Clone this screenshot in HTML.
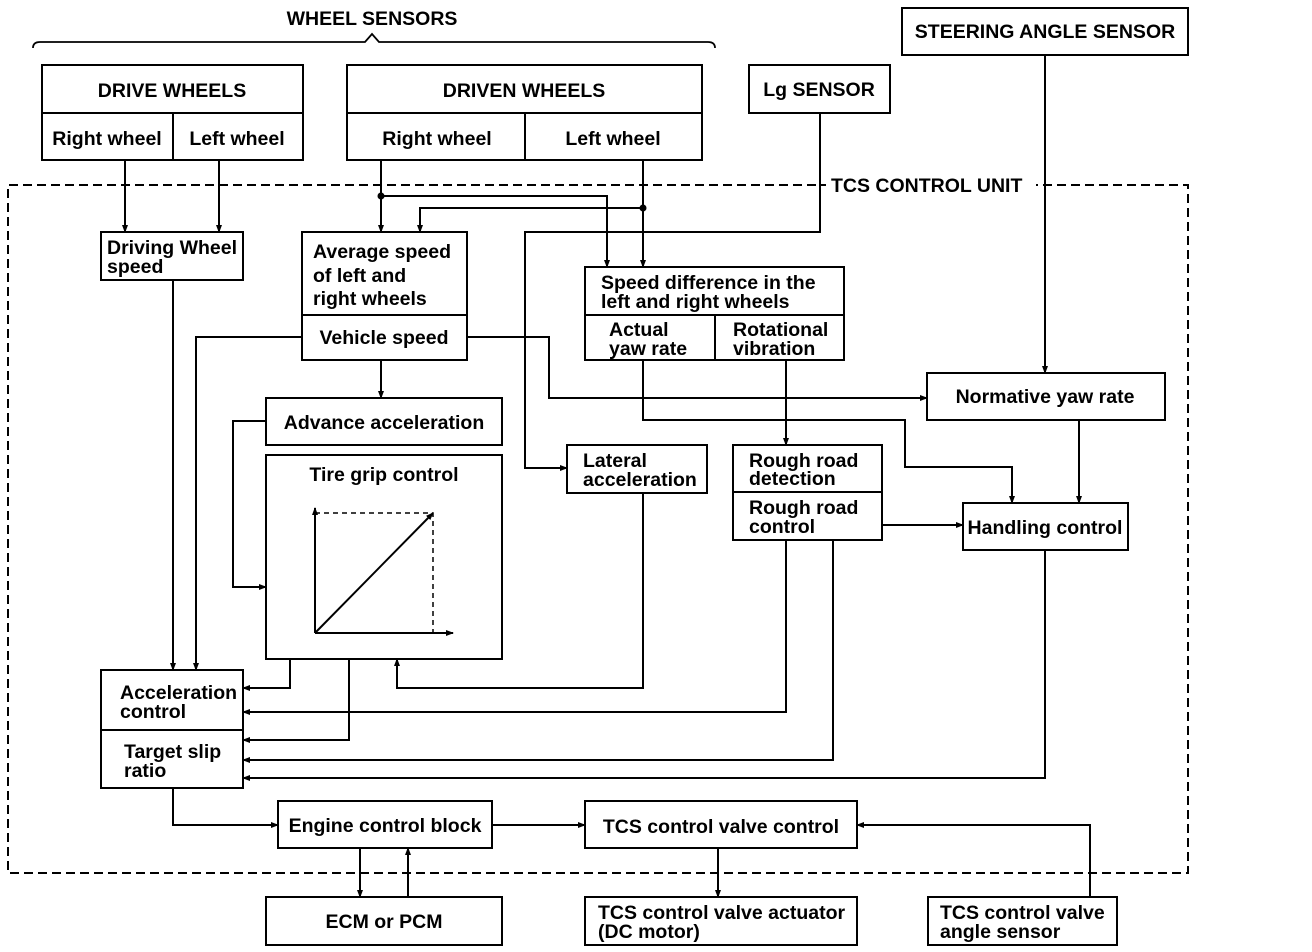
<!DOCTYPE html>
<html><head><style>
html,body{margin:0;padding:0;background:#fff;}
svg{display:block;}
text{font-family:"Liberation Sans",sans-serif;font-weight:bold;font-size:19.5px;fill:#000;}
</style></head><body>
<svg width="1312" height="952" viewBox="0 0 1312 952" xmlns="http://www.w3.org/2000/svg">
<defs>
<marker id="a" markerWidth="8" markerHeight="8" refX="7" refY="4" orient="auto" markerUnits="userSpaceOnUse">
<path d="M0,1 L8,4 L0,7 Z" fill="#000"/></marker>
</defs>
<g fill="none" stroke="#000" stroke-width="2">
<path d="M33,48 Q33,42 40,42 L365,42 L372,34 L379,42 L708,42 Q715,42 715,48" stroke-width="1.8"/>
<path d="M830,185 L8,185 L8,873 L1188,873 L1188,185 L1035,185" stroke-dasharray="9,5"/>
<rect x="42" y="65" width="261" height="95"/><line x1="42" y1="113" x2="303" y2="113"/><line x1="173" y1="113" x2="173" y2="160"/>
<rect x="347" y="65" width="355" height="95"/><line x1="347" y1="113" x2="702" y2="113"/><line x1="525" y1="113" x2="525" y2="160"/>
<rect x="749" y="65" width="141" height="48"/>
<rect x="902" y="8" width="286" height="47"/>
<rect x="101" y="232" width="142" height="48"/>
<rect x="302" y="232" width="165" height="128"/><line x1="302" y1="315" x2="467" y2="315"/>
<rect x="585" y="267" width="259" height="93"/><line x1="585" y1="315" x2="844" y2="315"/><line x1="715" y1="315" x2="715" y2="360"/>
<rect x="927" y="373" width="238" height="47"/>
<rect x="266" y="398" width="236" height="47"/>
<rect x="266" y="455" width="236" height="204"/>
<rect x="567" y="445" width="140" height="48"/>
<rect x="733" y="445" width="149" height="95"/><line x1="733" y1="492" x2="882" y2="492"/>
<rect x="963" y="503" width="165" height="47"/>
<rect x="101" y="670" width="142" height="118"/><line x1="101" y1="730" x2="243" y2="730"/>
<rect x="278" y="801" width="214" height="47"/>
<rect x="585" y="801" width="272" height="47"/>
<rect x="266" y="897" width="236" height="48"/>
<rect x="585" y="897" width="272" height="48"/>
<rect x="928" y="897" width="189" height="48"/>
<line x1="315" y1="633" x2="315" y2="508" marker-end="url(#a)"/>
<line x1="315" y1="633" x2="453" y2="633" marker-end="url(#a)"/>
<line x1="315" y1="633" x2="433" y2="513" marker-end="url(#a)"/>
<path d="M315,513 L433,513 L433,633" stroke-dasharray="5,4" stroke-width="1.5"/>
<g marker-end="url(#a)">
<line x1="125" y1="160" x2="125" y2="232"/>
<line x1="219" y1="160" x2="219" y2="232"/>
<line x1="381" y1="160" x2="381" y2="232"/>
<path d="M381,196 L607,196 L607,267"/>
<line x1="643" y1="160" x2="643" y2="267"/>
<path d="M643,208 L420,208 L420,232"/>
<path d="M820,113 L820,232 L525,232 L525,468 L567,468"/>
<line x1="1045" y1="55" x2="1045" y2="373"/>
<line x1="173" y1="280" x2="173" y2="670"/>
<path d="M302,337 L196,337 L196,670"/>
<path d="M467,337 L549,337 L549,398 L927,398"/>
<line x1="381" y1="360" x2="381" y2="398"/>
<path d="M266,421 L233,421 L233,587 L266,587"/>
<path d="M643,360 L643,420 L905,420 L905,467 L1012,467 L1012,503"/>
<line x1="786" y1="360" x2="786" y2="445"/>
<line x1="1079" y1="420" x2="1079" y2="503"/>
<line x1="882" y1="525" x2="963" y2="525"/>
<path d="M290,659 L290,688 L243,688"/>
<path d="M349,659 L349,740 L243,740"/>
<path d="M643,493 L643,688 L397,688 L397,659"/>
<path d="M786,540 L786,712 L243,712"/>
<path d="M833,540 L833,760 L243,760"/>
<path d="M1045,550 L1045,778 L243,778"/>
<path d="M173,788 L173,825 L278,825"/>
<line x1="492" y1="825" x2="585" y2="825"/>
<line x1="360" y1="848" x2="360" y2="897"/>
<line x1="408" y1="897" x2="408" y2="848"/>
<line x1="718" y1="848" x2="718" y2="897"/>
<path d="M1090,897 L1090,825 L857,825"/>
</g>
</g>
<circle cx="381" cy="196" r="3.5"/><circle cx="643" cy="208" r="3.5"/>
<rect x="826" y="175" width="210" height="20" fill="#fff"/>
<text x="831" y="192">TCS CONTROL UNIT</text>
<text x="372" y="25" text-anchor="middle">WHEEL SENSORS</text>
<text x="172" y="97" text-anchor="middle">DRIVE WHEELS</text>
<text x="107" y="145" text-anchor="middle">Right wheel</text>
<text x="237" y="145" text-anchor="middle">Left wheel</text>
<text x="524" y="97" text-anchor="middle">DRIVEN WHEELS</text>
<text x="437" y="145" text-anchor="middle">Right wheel</text>
<text x="613" y="145" text-anchor="middle">Left wheel</text>
<text x="819" y="96" text-anchor="middle">Lg SENSOR</text>
<text x="1045" y="38" text-anchor="middle">STEERING ANGLE SENSOR</text>
<text x="107" y="254">Driving Wheel</text><text x="107" y="273">speed</text>
<text x="313" y="258">Average speed</text><text x="313" y="282">of left and</text><text x="313" y="305">right wheels</text>
<text x="384" y="344" text-anchor="middle">Vehicle speed</text>
<text x="601" y="289">Speed difference in the</text><text x="601" y="308">left and right wheels</text>
<text x="609" y="336">Actual</text><text x="609" y="355">yaw rate</text>
<text x="733" y="336">Rotational</text><text x="733" y="355">vibration</text>
<text x="1045" y="403" text-anchor="middle">Normative yaw rate</text>
<text x="384" y="429" text-anchor="middle">Advance acceleration</text>
<text x="384" y="481" text-anchor="middle">Tire grip control</text>
<text x="583" y="467">Lateral</text><text x="583" y="486">acceleration</text>
<text x="749" y="467">Rough road</text><text x="749" y="485">detection</text>
<text x="749" y="514">Rough road</text><text x="749" y="533">control</text>
<text x="1045" y="534" text-anchor="middle">Handling control</text>
<text x="120" y="699">Acceleration</text><text x="120" y="718">control</text>
<text x="124" y="758">Target slip</text><text x="124" y="777">ratio</text>
<text x="385" y="832" text-anchor="middle">Engine control block</text>
<text x="721" y="833" text-anchor="middle">TCS control valve control</text>
<text x="384" y="928" text-anchor="middle">ECM or PCM</text>
<text x="598" y="919">TCS control valve actuator</text><text x="598" y="938">(DC motor)</text>
<text x="940" y="919">TCS control valve</text><text x="940" y="938">angle sensor</text>
</svg>
</body></html>
